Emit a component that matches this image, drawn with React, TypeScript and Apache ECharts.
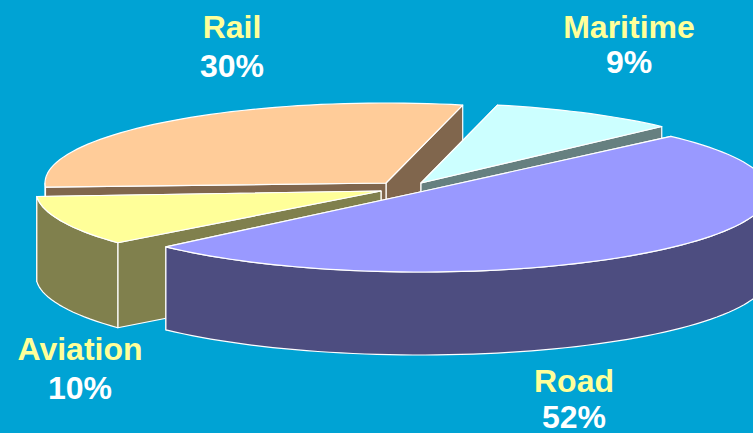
import React, { useEffect, useRef } from "react";
import * as echarts from "echarts";

const categories = ["Maritime", "Road", "Aviation", "Rail"];
const shares = [9, 52, 10, 30];
const percentLabels = ["9%", "52%", "10%", "30%"];

const topColors = ["#ccffff", "#9999ff", "#ffff99", "#ffcc99"];
const wallColors = ["#668080", "#4d4d80", "#80804d", "#80664d"];
const BG = "#00a3d4";
const FONT = "'Liberation Sans', Arial, sans-serif";

// Exploded-slice geometry: apex, ellipse radii, depth, small perspective trims (deg)
const apexX = [421, 420, 381, 386];
const apexY = [183, 192, 191, 183];
const radX = [340, 349, 345, 341];
const radY = [80, 80, 80, 80];
const depth = [84, 83, 85, 84];
const trimStart = [0, 0.9, -0.7, 1];
const trimEnd = [0, -3.7, 0, 0];
const drawOrder = [3, 0, 2, 1];
const START_ANGLE = 77;

const labelX = [629, 574, 80, 232];
const nameY = [27, 381, 349, 27];
const pctY = [62, 417, 388, 66];

function sliceAngles() {
  const total = shares.reduce((a, b) => a + b, 0);
  let cum = 0;
  return shares.map((v, i) => {
    const a0 = START_ANGLE - (cum / total) * 360 - trimStart[i];
    cum += v;
    const a1 = START_ANGLE - (cum / total) * 360 - trimEnd[i];
    return [a0, a1];
  });
}

function pt(i: number, deg: number, dy = 0): number[] {
  const r = (deg * Math.PI) / 180;
  return [apexX[i] + radX[i] * Math.cos(r), apexY[i] - radY[i] * Math.sin(r) + dy];
}

function arcPts(i: number, a0: number, a1: number, dy = 0): number[][] {
  const n = Math.max(2, Math.ceil(Math.abs(a1 - a0) / 2));
  const out: number[][] = [];
  for (let k = 0; k <= n; k++) out.push(pt(i, a0 + ((a1 - a0) * k) / n, dy));
  return out;
}

export default function App() {
  const ref = useRef<HTMLDivElement>(null);
  useEffect(() => {
    if (!ref.current) return;
    const chart = echarts.init(ref.current, undefined, { renderer: "svg" });
    const angles = sliceAngles();
    const line = { stroke: "#ffffff", lineWidth: 1.2, lineJoin: "round" };
    chart.setOption({
      animation: false,
      backgroundColor: BG,
      series: [
        {
          type: "custom",
          coordinateSystem: "none",
          silent: true,
          data: drawOrder.map((i) => [i, shares[i]]),
          renderItem: (_p: any, api: any) => {
            const i = api.value(0) as number;
            const [a0, a1] = angles[i];
            const wall = wallColors[i];
            const children: any[] = [];
            const apex = [apexX[i], apexY[i]];
            const d = depth[i];
            // cut faces, the farther one first
            [a0, a1]
              .map((a) => pt(i, a))
              .sort((p, q) => p[1] - q[1])
              .forEach((p) => {
                children.push({
                  type: "polygon",
                  shape: { points: [apex, p, [p[0], p[1] + d], [apex[0], apex[1] + d]] },
                  style: { fill: wall, ...line },
                });
              });
            // outer wall: the part of the rim on the front half of the ellipse
            const from = Math.min(a0, 0);
            const to = Math.max(a1, -180);
            if (from > to) {
              const rim = arcPts(i, from, to);
              const rimLow = arcPts(i, from, to, d).reverse();
              children.push({
                type: "polygon",
                shape: { points: rim.concat(rimLow) },
                style: { fill: wall, ...line },
              });
            }
            children.push({
              type: "polygon",
              shape: { points: [apex].concat(arcPts(i, a0, a1)) },
              style: { fill: topColors[i], ...line },
            });
            return { type: "group", children };
          },
        },
      ],
      graphic: categories.flatMap((name, i) => [
        {
          type: "text",
          x: labelX[i],
          y: nameY[i],
          style: {
            text: name,
            fill: "#ffff99",
            font: `bold 32px ${FONT}`,
            textAlign: "center",
            textVerticalAlign: "middle",
          },
        },
        {
          type: "text",
          x: labelX[i],
          y: pctY[i],
          style: {
            text: percentLabels[i],
            fill: "#ffffff",
            font: `bold 32px ${FONT}`,
            textAlign: "center",
            textVerticalAlign: "middle",
          },
        },
      ]),
    });
    return () => chart.dispose();
  }, []);
  return (
    <div
      ref={ref}
      style={{ position: "fixed", left: 0, top: 0, width: 753, height: 433 }}
    />
  );
}
